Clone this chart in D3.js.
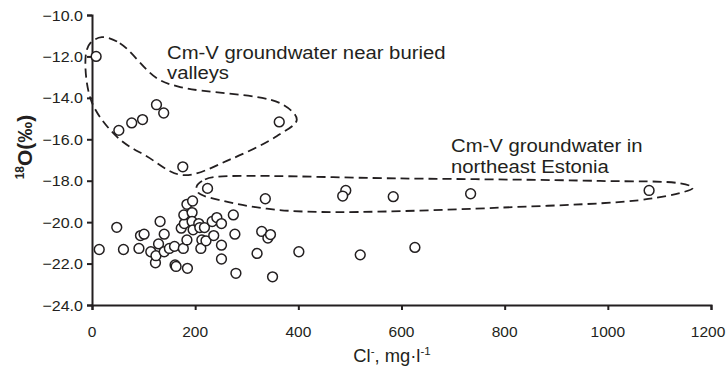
<!DOCTYPE html>
<html>
<head>
<meta charset="utf-8">
<script src="https://cdn.jsdelivr.net/npm/d3@7"></script>
<style>
  body { margin: 0; background: #fff; }
  svg { display: block; font-family: "Liberation Sans", Arial, sans-serif; }
</style>
</head>
<body>
<div id="chart"></div>
<script>
// Cm-V groundwater near buried valleys
const valleyCl = [8, 52, 77, 98, 125, 139, 176, 363];
const valleyO18 = [-12.0, -15.57, -15.21, -15.05, -14.33, -14.73, -17.33, -15.16];

// Cm-V groundwater in northeast Estonia
const estoniaCl = [224, 336, 492, 486, 584, 734, 1080];
const estoniaO18 = [-18.37, -18.87, -18.47, -18.74, -18.77, -18.63, -18.47];

// remaining samples
const otherCl = [14, 48, 61, 91, 94, 101, 114, 123, 124, 129, 132, 140, 140, 150, 160, 161, 163,
  177, 184, 185, 173, 179, 178, 184, 195, 194, 194, 196, 207, 209, 218, 213, 211, 221,
  233, 242, 251, 236, 251, 251, 274, 277, 279, 320, 329, 341, 346, 350, 401, 520, 626];
const otherO18 = [-21.32, -20.25, -21.32, -21.27, -20.65, -20.58, -21.43, -21.96, -21.62, -21.05,
  -19.97, -20.58, -21.43, -21.27, -21.17, -22.07, -22.14, -21.27, -20.86, -22.23, -20.29,
  -20.07, -19.65, -19.14, -18.98, -19.54, -19.97, -20.37, -20.07, -20.26, -20.26, -20.86,
  -21.27, -20.9, -19.97, -19.78, -20.07, -20.65, -21.11, -21.78, -19.65, -20.58, -22.47,
  -21.51, -20.45, -20.77, -20.6, -22.64, -21.43, -21.58, -21.22];

// dashed outlines around the two groups (data units)
const valleyOutlineCl = [19, 54, 125, 171, 364, 397, 358, 268, 176, 106, 50, -1, -12, -3];
const valleyOutlineO18 = [-11.07, -11.36, -13.04, -13.48, -14.25, -15.05, -15.85, -16.97, -17.73, -16.82, -15.92, -14.17, -11.92, -11.35];
const estoniaOutlineCl = [203, 219, 242, 597, 985, 1140, 1165, 1088, 791, 442, 339, 255, 206];
const estoniaOutlineO18 = [-18.27, -17.94, -17.81, -17.89, -18.01, -18.13, -18.34, -18.85, -19.3, -19.51, -19.35, -18.98, -18.58];

const xTicks = [0, 200, 400, 600, 800, 1000, 1200];
const yTicks = [-10, -12, -14, -16, -18, -20, -22, -24];

const width = 726, height = 369;
const margin = { top: 15, right: 15, bottom: 64, left: 92 };

const svg = d3.select('#chart').append('svg')
  .attr('width', width)
  .attr('height', height);

const x = d3.scaleLinear().domain([0, 1200]).range([margin.left, 711]);
const y = d3.scaleLinear().domain([-24, -10]).range([305, margin.top]);

// stretched text helper, the source fonts are a bit wide
function label(g, px, py, sx, size, anchor) {
  return g.append('text')
    .attr('transform', `translate(${px},${py}) scale(${sx},1)`)
    .attr('font-size', size)
    .attr('text-anchor', anchor || 'start')
    .attr('fill', '#231f20');
}

// axes
svg.append('g')
  .attr('transform', 'translate(0,305)')
  .call(d3.axisBottom(x).tickValues(xTicks).tickSize(5).tickFormat(''));
svg.append('g')
  .attr('transform', `translate(${margin.left},0)`)
  .call(d3.axisLeft(y).tickValues(yTicks).tickSize(5).tickFormat(''));
svg.selectAll('.domain, .tick line')
  .attr('stroke', '#231f20')
  .attr('stroke-width', 2);

xTicks.forEach(v => {
  // keep the last label inside the window
  label(svg, Math.min(x(v), width - 18), 337, 1, 15.5, 'middle').text(v);
});
yTicks.forEach(v => {
  label(svg, 83, y(v) + 5.5, 1.07, 15, 'end').text(d3.format('.1f')(v));
});

// outlines
const outline = d3.line()
  .x(d => x(d[0]))
  .y(d => y(d[1]))
  .curve(d3.curveCatmullRomClosed.alpha(0.5));

[[valleyOutlineCl, valleyOutlineO18], [estoniaOutlineCl, estoniaOutlineO18]].forEach(([cl, o]) => {
  svg.append('path')
    .attr('d', outline(cl.map((c, i) => [c, o[i]])))
    .attr('fill', 'none')
    .attr('stroke', '#231f20')
    .attr('stroke-width', 1.8)
    .attr('stroke-dasharray', '9,5');
});

// points
const pts = [];
[[otherCl, otherO18], [valleyCl, valleyO18], [estoniaCl, estoniaO18]].forEach(([cl, o]) => {
  cl.forEach((c, i) => pts.push([c, o[i]]));
});
svg.append('g').selectAll('circle')
  .data(pts)
  .enter().append('circle')
  .attr('cx', d => x(d[0]))
  .attr('cy', d => y(d[1]))
  .attr('r', 4.9)
  .attr('fill', '#fff')
  .attr('stroke', '#231f20')
  .attr('stroke-width', 1.5);

// annotations
label(svg, 167, 59, 1.16, 17.5).text('Cm-V groundwater near buried');
label(svg, 167, 79, 1.16, 17.5).text('valleys');
label(svg, 451, 152, 1.16, 17.5).text('Cm-V groundwater in');
label(svg, 451, 173, 1.16, 17.5).text('northeast Estonia');

// axis titles
const xt = label(svg, 392, 362, 1.05, 17.5, 'middle');
xt.append('tspan').text('Cl');
xt.append('tspan').attr('font-size', 11).attr('dy', -7).text('-');
xt.append('tspan').attr('dy', 7).text(', mg·l');
xt.append('tspan').attr('font-size', 11).attr('dy', -7).text('-1');

const yt = svg.append('text')
  .attr('transform', 'translate(32,147) rotate(-90)')
  .attr('text-anchor', 'middle')
  .attr('font-size', 21)
  .attr('font-weight', 'bold')
  .attr('fill', '#231f20');
yt.append('tspan').attr('font-size', 12).attr('dy', -8).text('18');
yt.append('tspan').attr('dy', 8).text('O(‰)');
</script>
</body>
</html>
